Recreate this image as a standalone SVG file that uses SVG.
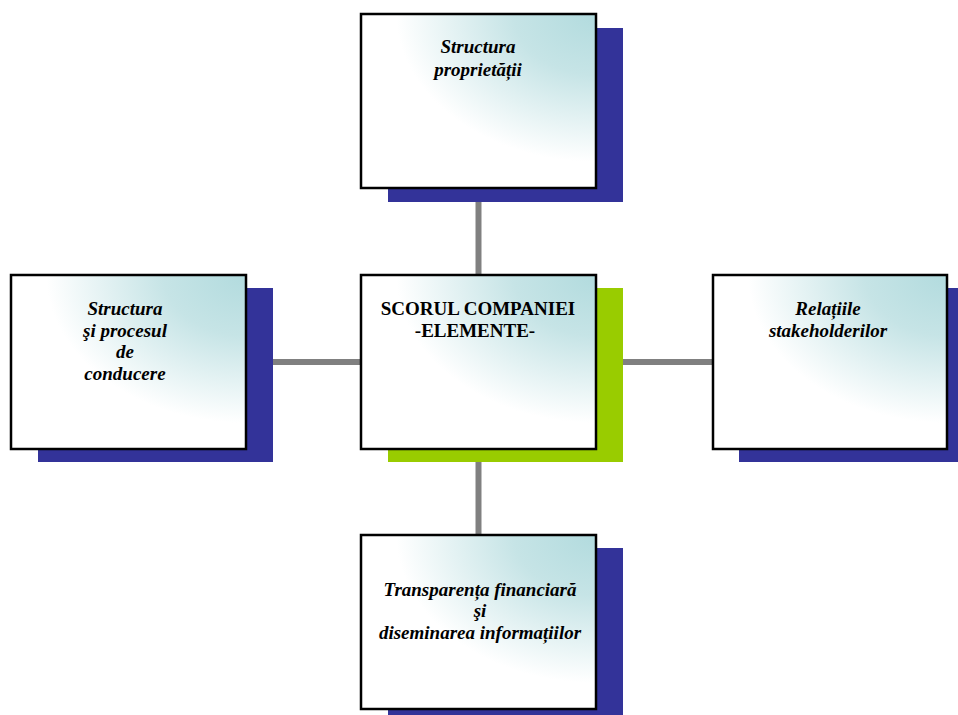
<svg xmlns="http://www.w3.org/2000/svg" width="958" height="715" viewBox="0 0 958 715">
<defs>
<radialGradient id="g" cx="1" cy="0" r="1" fx="1" fy="0">
<stop offset="0" stop-color="#b2dbde"/>
<stop offset="0.35" stop-color="#c6e4e6"/>
<stop offset="0.85" stop-color="#ffffff"/>
</radialGradient>
</defs>
<style>
.box{fill:url(#g);stroke:#000;stroke-width:2.5}
.sh{fill:#333399}
.shg{fill:#99cc00}
.con{stroke:#808080;stroke-width:6;fill:none}
text{font-family:"Liberation Serif","Times New Roman",serif;font-size:19px;font-weight:bold;text-anchor:middle;fill:#000}
.it{font-style:italic}
</style>
<rect width="958" height="715" fill="#fff"/>
<g id="connectors">
<line class="con" x1="478.5" y1="200" x2="478.5" y2="276"/>
<line class="con" x1="478.5" y1="460" x2="478.5" y2="536"/>
<line class="con" x1="271" y1="362" x2="362" y2="362"/>
<line class="con" x1="621" y1="362" x2="714" y2="362"/>
</g>
<g id="top">
<rect class="sh" x="388" y="28" width="235" height="174"/>
<rect class="box" x="361" y="14" width="235" height="174"/>
<text class="it" x="478" y="53">Structura</text>
<text class="it" x="478" y="76">proprietății</text>
</g>
<g id="center">
<rect class="shg" x="388" y="288" width="235" height="174"/>
<rect class="box" x="361" y="275" width="235" height="174"/>
<text x="478" y="315">SCORUL COMPANIEI</text>
<text x="475" y="337">-ELEMENTE-</text>
</g>
<g id="left">
<rect class="sh" x="38" y="288" width="235" height="174"/>
<rect class="box" x="11" y="275" width="235" height="174"/>
<text class="it" x="125" y="315">Structura</text>
<text class="it" x="125" y="337">şi procesul</text>
<text class="it" x="125" y="358">de</text>
<text class="it" x="125" y="380">conducere</text>
</g>
<g id="right">
<rect class="sh" x="739" y="288" width="235" height="174"/>
<rect class="box" x="713" y="275" width="234" height="174"/>
<text class="it" x="828" y="315">Relațiile</text>
<text class="it" x="828" y="337">stakeholderilor</text>
</g>
<g id="bottom">
<rect class="sh" x="388" y="548" width="235" height="174"/>
<rect class="box" x="361" y="535" width="235" height="174"/>
<text class="it" x="480" y="596">Transparența financiară</text>
<text class="it" x="480" y="617">şi</text>
<text class="it" x="480" y="639">diseminarea informațiilor</text>
</g>
</svg>
